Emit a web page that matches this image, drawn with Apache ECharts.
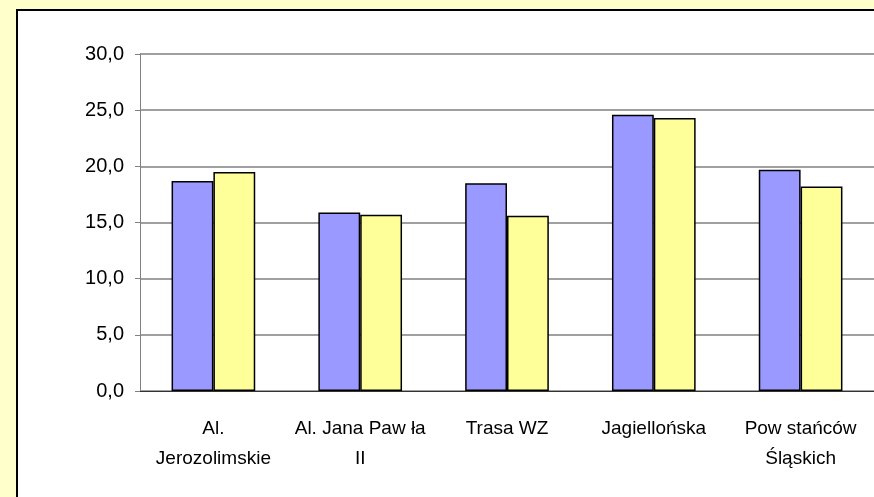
<!DOCTYPE html>
<html>
<head>
<meta charset="UTF-8">
<title>Wykres słupkowy</title>
<script src="https://cdn.jsdelivr.net/npm/echarts/dist/echarts.min.js"></script>
<style>
html, body { margin: 0; padding: 0; background: #FFFFCC; overflow: hidden; }
#chart { width: 874px; height: 497px; }
</style>
</head>
<body>
<div id="chart"></div>
<script>
// dane
var categories = ['Al.\nJerozolimskie', 'Al. Jana Paw ła\nII', 'Trasa WZ', 'Jagiellońska', 'Pow stańców\nŚląskich'];
var seriesA = [18.7, 15.9, 18.5, 24.6, 19.7];
var seriesB = [19.5, 15.7, 15.6, 24.3, 18.2];
var yTicks = [0, 5, 10, 15, 20, 25, 30];

var myChart = echarts.init(document.getElementById('chart'));

var option = {
  backgroundColor: '#FFFFCC',
  animation: false,
  graphic: [{
    type: 'rect',
    z: -10,
    shape: { x: 17, y: 10, width: 900, height: 600 },
    style: { fill: '#FFFFFF', stroke: '#000000', lineWidth: 2 }
  }],
  grid: { left: 140, top: 54, right: -6, bottom: 106 },
  xAxis: {
    type: 'category',
    data: categories,
    axisLine: { lineStyle: { color: '#333333', width: 1 } },
    axisTick: { length: 6, lineStyle: { color: '#333333' } },
    axisLabel: {
      color: '#000000',
      fontFamily: 'Liberation Sans, Arial, sans-serif',
      fontSize: 19,
      lineHeight: 30,
      margin: 23,
      interval: 0
    }
  },
  yAxis: {
    type: 'value',
    min: yTicks[0],
    max: yTicks[yTicks.length - 1],
    interval: 5,
    axisLine: { show: true, lineStyle: { color: '#808080' } },
    axisTick: { show: true, length: 5, lineStyle: { color: '#808080' } },
    splitLine: { lineStyle: { color: '#808080', width: 1.5 } },
    axisLabel: {
      color: '#000000',
      fontFamily: 'Liberation Sans, Arial, sans-serif',
      fontSize: 20,
      margin: 16,
      formatter: function (v) { return v.toFixed(1).replace('.', ','); }
    }
  },
  series: [{
    type: 'bar',
    data: seriesA,
    barGap: '0%',
    barCategoryGap: '43%',
    itemStyle: { color: '#9999FF', borderColor: '#000000', borderWidth: 1.5 }
  }, {
    type: 'bar',
    data: seriesB,
    itemStyle: { color: '#FFFF99', borderColor: '#000000', borderWidth: 1.5 }
  }]
};

myChart.setOption(option);
</script>
</body>
</html>
